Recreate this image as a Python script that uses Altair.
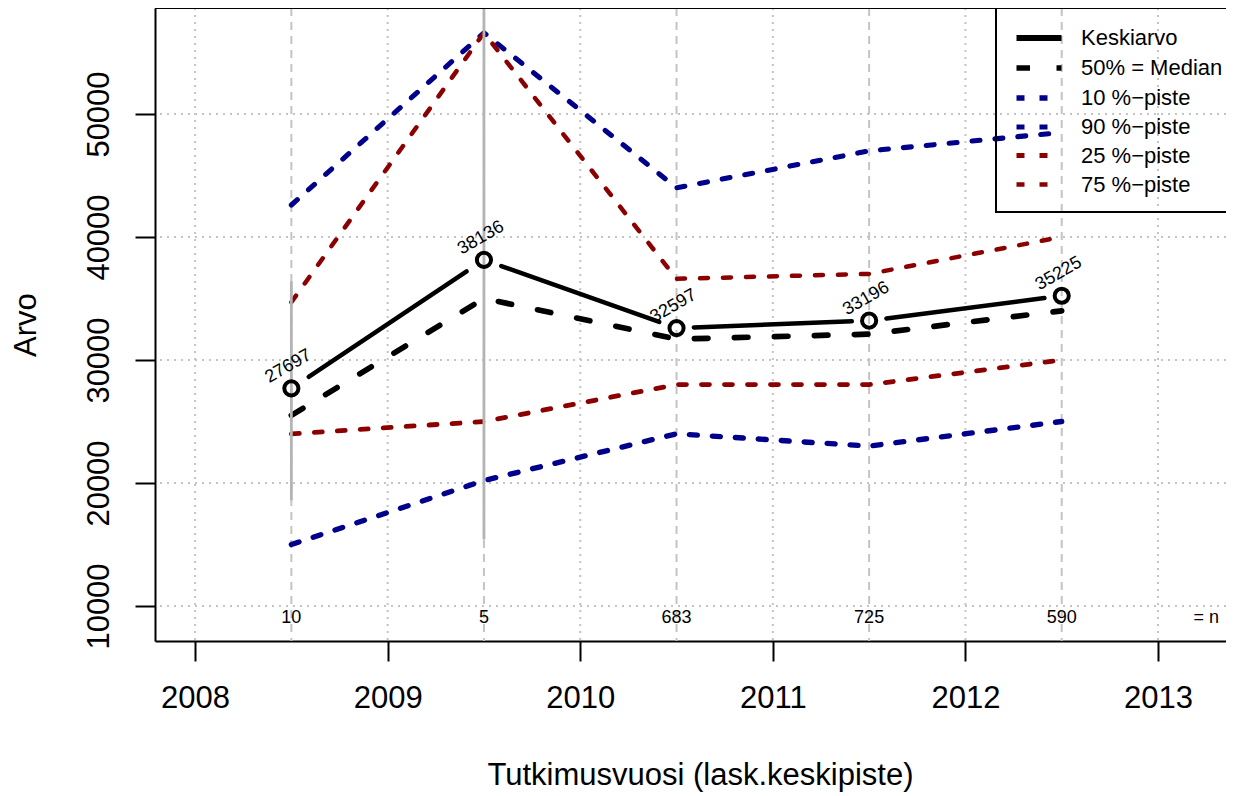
import altair as alt
import pandas as pd

# ---------------- data ----------------
years = [2008.5, 2009.5, 2010.5, 2011.5, 2012.5]
n_counts = ["10", "5", "683", "725", "590"]
mean_vals = [27697, 38136, 32597, 33196, 35225]
median_vals = [25500, 35000, 31700, 32100, 34000]
p10_vals = [15000, 20200, 24000, 23000, 25000]
p90_vals = [42600, 56600, 44000, 47000, 48500]
p25_vals = [24000, 25000, 28000, 28000, 30000]
p75_vals = [34700, 56600, 36600, 37000, 40000]
ci_years = [2008.5, 2009.5]
ci_low = [18600, 15400]
ci_high = [36400, 60900]
x_ticks = [2008, 2009, 2010, 2011, 2012, 2013]
y_ticks = [10000, 20000, 30000, 40000, 50000]
series_names = ["Keskiarvo", "50% = Median", "10 %\u2212piste", "90 %\u2212piste",
                "25 %\u2212piste", "75 %\u2212piste"]
n_label_y = 9000
n_tag_x = 2013.25

# ---------------- layout / style ----------------
W, H = 1071, 633
FONT = "Liberation Sans"
BLUE = "#00008B"
RED = "#8B0000"
GRID = "#c4c4c4"

xs = alt.Scale(domain=[2007.792, 2013.353], nice=False, zero=False)
ys = alt.Scale(domain=[7154, 58618], nice=False, zero=False)

# long table of the dashed lines (median + percentiles)
rows = []
for name, vals in zip(series_names[1:], [median_vals, p10_vals, p90_vals, p25_vals, p75_vals]):
    for x, v in zip(years, vals):
        rows.append({"series": name, "x": x, "value": v})
lines_df = pd.DataFrame(rows)

means_df = pd.DataFrame({"x": years, "value": mean_vals,
                         "label": [str(v) for v in mean_vals], "n": n_counts})

gap = 0.09
seg_rows = []
for i in range(len(years) - 1):
    dx = years[i + 1] - years[i]
    dy = mean_vals[i + 1] - mean_vals[i]
    seg_rows.append({"x": years[i] + gap * dx, "y": mean_vals[i] + gap * dy,
                     "x2": years[i + 1] - gap * dx, "y2": mean_vals[i + 1] - gap * dy})
seg_df = pd.DataFrame(seg_rows)

ci_df = pd.DataFrame({"x": ci_years, "lo": ci_low, "hi": ci_high})
xt_df = pd.DataFrame({"x": x_ticks})
xm_df = pd.DataFrame({"x": years})
yt_df = pd.DataFrame({"y": y_ticks})

x_axis = alt.Axis(values=x_ticks, format="d", tickSize=20, tickWidth=2, tickColor="black",
                  domainColor="black", domainWidth=2, labelFontSize=31, labelFont=FONT,
                  labelColor="black", labelPadding=22, labelBaseline="top", grid=False,
                  title="Tutkimusvuosi (lask.keskipiste)", titleFontSize=31, titleFont=FONT,
                  titleFontWeight="normal", titleColor="black", titleX=545, titleY=143,
                  titleBaseline="alphabetic", titleAlign="center", labelFlush=False)
y_axis = alt.Axis(values=y_ticks, format="d", tickSize=20, tickWidth=2, tickColor="black",
                  domainColor="black", domainWidth=2, labelFontSize=31, labelFont=FONT,
                  labelColor="black", labelAngle=270, labelAlign="center",
                  labelBaseline="alphabetic", labelPadding=27, grid=False, title="Arvo",
                  titleFontSize=31, titleFont=FONT, titleFontWeight="normal", titleColor="black",
                  titleAngle=270, titleX=-120, titleY=316.5, titleBaseline="alphabetic",
                  titleAlign="center", labelFlush=False)


def X(field):
    return alt.X(field, scale=xs, axis=x_axis)


def Y(field):
    return alt.Y(field, scale=ys, axis=y_axis)


vgrid_dot = alt.Chart(xt_df).mark_rule(color=GRID, strokeWidth=2, strokeDash=[2, 5]).encode(
    x=X("x:Q"))
vgrid_dash = alt.Chart(xm_df).mark_rule(color=GRID, strokeWidth=2, strokeDash=[8, 6]).encode(
    x=X("x:Q"))
hgrid_dot = alt.Chart(yt_df).mark_rule(color=GRID, strokeWidth=2, strokeDash=[2, 5]).encode(
    y=Y("y:Q"))

leg = alt.Legend(title=None, orient="none", legendX=841, legendY=-4)
lines = alt.Chart(lines_df).mark_line(strokeCap="round").encode(
    x=X("x:Q"),
    y=Y("value:Q"),
    color=alt.Color("series:N",
                    scale=alt.Scale(domain=series_names,
                                    range=["black", "black", BLUE, BLUE, RED, RED]),
                    legend=leg),
    strokeDash=alt.StrokeDash("series:N",
                              scale=alt.Scale(domain=series_names,
                                              range=[[1, 0], [13.5, 26.5], [8, 15], [8, 15],
                                                     [8, 15], [8, 15]]),
                              legend=leg),
    strokeWidth=alt.StrokeWidth("series:N",
                                scale=alt.Scale(domain=series_names,
                                                range=[6, 4.5, 3.2, 3.2, 3.2, 3.2]),
                                legend=leg),
    detail="series:N",
)

ci = alt.Chart(ci_df).mark_rule(color="#b4b4b4", strokeWidth=2.8, clip=True).encode(
    x=X("x:Q"),
    y=Y("lo:Q"),
    y2="hi:Q",
)

mean_segs = alt.Chart(seg_df).mark_rule(color="black", strokeWidth=4.5, strokeCap="round").encode(
    x=X("x:Q"),
    y=Y("y:Q"),
    x2="x2:Q", y2="y2:Q",
)

points = alt.Chart(means_df).mark_point(shape="circle", filled=False, color="black",
                                         strokeWidth=4, size=200, opacity=1).encode(
    x=X("x:Q"),
    y=Y("value:Q"),
)

mean_labels = alt.Chart(means_df).mark_text(font=FONT, fontSize=18, angle=330, color="black",
                                             align="center", baseline="middle",
                                             xOffset=-3, yOffset=-22).encode(
    x=X("x:Q"),
    y=Y("value:Q"),
    text="label:N",
)

n_labels = alt.Chart(means_df).mark_text(font=FONT, fontSize=18, color="black",
                                          align="center", baseline="middle").encode(
    x=X("x:Q"),
    y=alt.datum(n_label_y, scale=ys, axis=y_axis),
    text="n:N",
)

n_tag = alt.Chart(means_df).mark_text(font=FONT, fontSize=18, color="black", align="center",
                                       baseline="middle", text="= n").encode(
    x=alt.datum(n_tag_x, scale=xs, axis=x_axis),
    y=alt.datum(n_label_y, scale=ys, axis=y_axis),
).transform_filter(alt.datum.x == years[0])

top_border = alt.Chart(means_df).mark_rule(color="black", strokeWidth=2).encode(
    x=alt.value(0), x2=alt.value(W), y=alt.value(0)
).transform_filter(alt.datum.x == years[0])

chart = alt.layer(
    vgrid_dot, vgrid_dash, hgrid_dot, lines, ci, mean_segs, points, mean_labels,
    n_labels, n_tag, top_border
).properties(
    width=W, height=H,
    autosize=alt.AutoSizeParams(type="none"),
    padding={"left": 147, "top": 0, "right": 0, "bottom": 151},
).configure_view(stroke=None).configure_legend(
    symbolType="M-1.5,0H1.5", symbolSize=900, labelFontSize=22, labelFont=FONT,
    labelColor="black", labelOffset=24, padding=16, symbolOffset=9, rowPadding=0,
    strokeColor="black", strokeWidth=2, labelLimit=400,
)

chart.save("out.html", embed_options={"renderer": "svg", "actions": False})
